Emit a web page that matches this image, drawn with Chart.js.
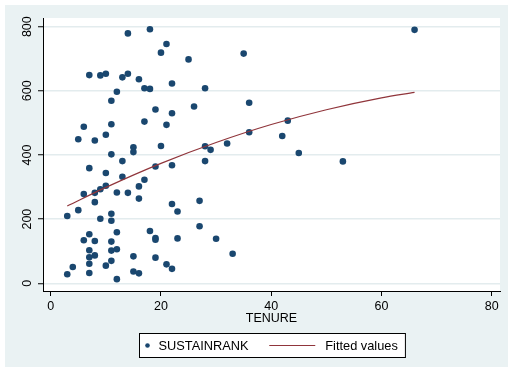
<!DOCTYPE html>
<html>
<head>
<meta charset="utf-8">
<title>SUSTAINRANK by TENURE</title>
<script src="https://cdn.jsdelivr.net/npm/chart.js@4/dist/chart.umd.min.js"></script>
<style>
  html, body { margin: 0; padding: 0; background: #ffffff; }
  canvas { display: block; }
</style>
</head>
<body>
<canvas id="chart" width="508" height="372"></canvas>
<script>
// Observations: firm tenure (years) and sustainability rank
const tenure = [14,18,7,9,10,13,14,16,17,18,12,11,19,6,11,17,5,8,10,15,
                15,11,21,20,25,35,22,28,22,26,36,21,36,20,28,29,32,66,43,42,
                45,53,13,7,10,13,17,19,16,10,9,8,6,12,14,16,8,5,3,11,
                11,9,7,6,8,12,11,18,19,19,7,11,12,8,7,7,11,15,10,19,
                4,3,7,15,16,12,22,28,22,23,27,23,27,30,33,21,22];
const sustainRank = [779,792,649,648,653,642,653,636,608,606,597,569,542,488,496,504,449,445,463,424,
                     409,402,746,719,698,716,623,608,530,551,563,494,471,428,427,416,436,790,507,459,
                     406,380,381,359,344,332,323,364,302,304,293,282,278,283,282,264,253,228,210,217,
                     195,201,153,134,132,159,130,163,141,136,103,102,106,87,81,61,70,84,55,80,
                     51,28,32,37,31,13,368,381,247,224,257,140,178,139,92,59,45];

// Fitted values along the tenure range
const fitTenure = [3, 10, 20, 30, 40, 50, 60, 66];
const fitValues = [241, 299, 374, 439, 495, 541, 578, 595];

// Axis tick labels
const xTicks = [0, 20, 40, 60, 80];
const yTicks = [0, 200, 400, 600, 800];

const seriesNames = ['SUSTAINRANK', 'Fitted values'];

const FONT = "'Liberation Sans', Arial, Helvetica, sans-serif";
const NAVY = '#1A476F';
const MAROON = '#90353B';
const PANEL = '#EAF2F3';

Chart.defaults.color = '#000';
Chart.defaults.font.family = FONT;

// Graph region, plot region and the boxed key underneath
const stataFrame = {
  id: 'stataFrame',
  beforeDraw(chart) {
    const { ctx, chartArea: a, width, height } = chart;
    ctx.save();
    ctx.fillStyle = '#ffffff';
    ctx.fillRect(0, 0, width, height);
    ctx.fillStyle = PANEL;
    ctx.fillRect(5, 5, width - 5, height - 10);
    ctx.fillStyle = '#ffffff';
    ctx.fillRect(a.left, a.top, a.right - a.left, a.bottom - a.top);
    ctx.restore();
  },
  afterDraw(chart) {
    const { ctx, chartArea: a, height } = chart;
    const ds = chart.data.datasets;
    ctx.save();
    ctx.font = '12.8px ' + FONT;
    const w1 = ctx.measureText(ds[1].label).width;
    const w2 = ctx.measureText(ds[0].label).width;
    const total = 103.3 + w1 + w2;
    const cx = (a.left + a.right) / 2;
    const left = Math.round(cx - total / 2) + 0.5;
    const top = height - 38.5;
    const boxH = 24;
    const cy = top + boxH / 2;
    ctx.fillStyle = '#ffffff';
    ctx.fillRect(left, top, total, boxH);
    ctx.strokeStyle = '#000';
    ctx.lineWidth = 1;
    ctx.strokeRect(left, top, total, boxH);

    // scatter key
    let x = left + 8;
    ctx.fillStyle = ds[1].backgroundColor;
    ctx.beginPath();
    ctx.arc(x, cy, 2.3, 0, Math.PI * 2);
    ctx.fill();
    x += 11;
    ctx.fillStyle = '#000';
    ctx.textBaseline = 'middle';
    ctx.textAlign = 'left';
    ctx.fillText(ds[1].label, x, cy + 0.5);
    x += w1 + 20.7;

    // line key
    ctx.strokeStyle = ds[0].borderColor;
    ctx.lineWidth = 1.2;
    ctx.beginPath();
    ctx.moveTo(x, cy);
    ctx.lineTo(x + 46, cy);
    ctx.stroke();
    x += 56;
    ctx.fillText(ds[0].label, x, cy + 0.5);
    ctx.restore();
  }
};

new Chart(document.getElementById('chart'), {
  type: 'scatter',
  data: {
    datasets: [
      {
        type: 'line',
        label: seriesNames[1],
        data: fitTenure.map((t, i) => ({ x: t, y: fitValues[i] })),
        borderColor: MAROON,
        borderWidth: 1.2,
        pointRadius: 0,
        fill: false,
        cubicInterpolationMode: 'monotone',
        order: 1
      },
      {
        label: seriesNames[0],
        data: tenure.map((t, i) => ({ x: t, y: sustainRank[i] })),
        backgroundColor: NAVY,
        borderColor: NAVY,
        borderWidth: 0,
        pointRadius: 3.3,
        order: 2
      }
    ]
  },
  options: {
    responsive: false,
    animation: false,
    devicePixelRatio: 1,
    layout: { padding: { left: 0, top: 18, right: 8, bottom: 45.5 } },
    plugins: {
      legend: { display: false },
      tooltip: { enabled: false }
    },
    scales: {
      x: {
        type: 'linear',
        min: -1.4,
        max: 81.5,
        afterBuildTicks(scale) { scale.ticks = xTicks.map(v => ({ value: v })); },
        afterFit(scale) { scale.height = 35.5; },
        ticks: {
          font: { size: 12.5, family: FONT },
          color: '#000',
          padding: 3,
          maxRotation: 0,
          autoSkip: false
        },
        grid: {
          drawOnChartArea: false,
          drawTicks: true,
          tickLength: 5,
          tickColor: '#000',
          tickWidth: 1
        },
        border: { display: true, color: '#000', width: 1 },
        title: {
          display: true,
          text: 'TENURE',
          font: { size: 12.5, family: FONT },
          color: '#000',
          padding: { top: 0, bottom: 0 }
        }
      },
      y: {
        type: 'linear',
        min: -24,
        max: 827,
        afterBuildTicks(scale) { scale.ticks = yTicks.map(v => ({ value: v })); },
        afterFit(scale) { scale.width = 43; },
        ticks: {
          font: { size: 12.5, family: FONT },
          color: '#000',
          padding: 0,
          minRotation: 90,
          maxRotation: 90,
          crossAlign: 'center',
          autoSkip: false
        },
        grid: {
          color: '#E3ECEE',
          lineWidth: 1.5,
          drawTicks: true,
          tickLength: 5,
          tickColor: '#000',
          tickWidth: 1
        },
        border: { display: true, color: '#000', width: 1 }
      }
    }
  },
  plugins: [stataFrame]
});
</script>
</body>
</html>
